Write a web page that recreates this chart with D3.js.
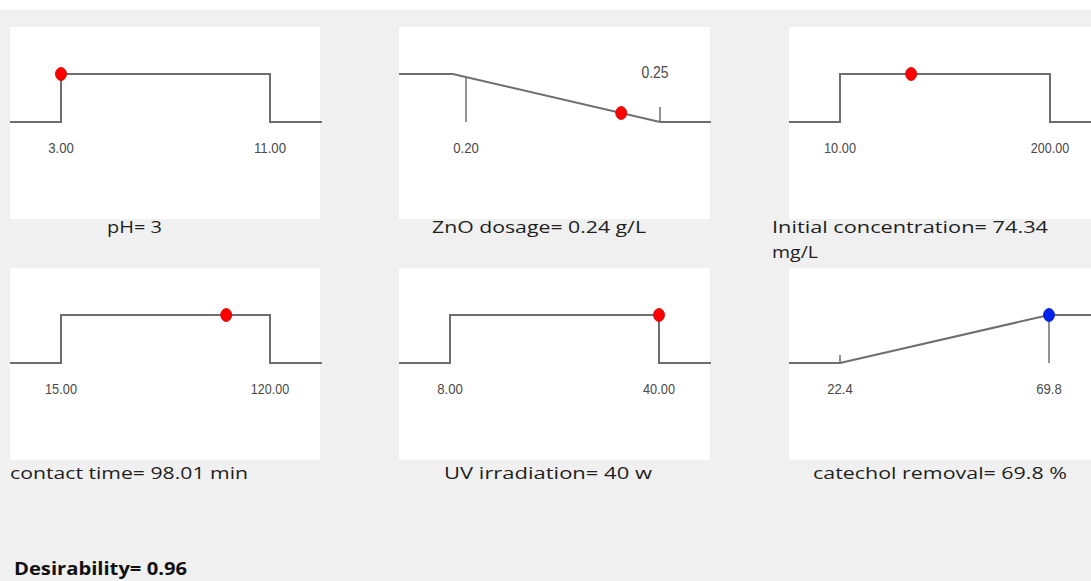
<!DOCTYPE html>
<html>
<head>
<meta charset="utf-8">
<script src="https://cdn.jsdelivr.net/npm/d3@7"></script>
<style>
  body { margin: 0; background: #fff; }
  svg { display: block; }
</style>
</head>
<body>
<div id="plot"></div>
<script>
// desirability ramps, one per factor / response
var titles = ["pH= 3", "ZnO dosage= 0.24 g/L", "Initial concentration= 74.34|mg/L",
              "contact time= 98.01 min", "UV irradiation= 40 w", "catechol removal= 69.8 %"];
var lows = [3, 0.20, 10, 15, 8, 22.4];
var highs = [11, 0.25, 200, 120, 40, 69.8];
var tickText = [["3.00", "11.00"], ["0.20", "0.25"], ["10.00", "200.00"],
                ["15.00", "120.00"], ["8.00", "40.00"], ["22.4", "69.8"]];
var optimum = [3, 0.24, 74.34, 98.01, 40, 69.8];
// curve points [x, desirability]
var curves = [
  [[3, 0], [3, 1], [11, 1], [11, 0]],
  [[0.1966, 1], [0.25, 0]],
  [[10, 0], [10, 1], [200, 1], [200, 0]],
  [[15, 0], [15, 1], [120, 1], [120, 0]],
  [[8, 0], [8, 1], [40, 1], [40, 0]],
  [[22.4, 0], [69.8, 1]]
];
var desirability = "Desirability= 0.96";

// layout
var W = 1091, H = 581;
var panelX = [10, 399, 789, 10, 399, 789];
var panelY = [27, 27, 27, 268, 268, 268];
var panelW = [310, 311, 302, 310, 311, 302];
var panelH = 192;
var lineW = [312, 312, 302, 312, 312, 302];
var tickLo = [51, 67, 51, 51, 51, 51];
var tickHi = [260, 261, 261, 260, 260, 260];
var plainStep = [true, false, true, true, true, false];
var dotColor = ["#ff0000", "#ff0000", "#ff0000", "#ff0000", "#ff0000", "#0022ee"];
var titleX = [107, 432, 772, 10, 444, 813];
var titleW = [55, 214, 276, 238, 208, 254];

var svg = d3.select("#plot").append("svg")
  .attr("width", W).attr("height", H);

svg.append("rect").attr("x", 0).attr("y", 10).attr("width", W).attr("height", H - 10)
  .attr("fill", "#f0f0f0");

var yScale = d3.scaleLinear().domain([0, 1]).range([95, 47]);

titles.forEach(function(t, i) {
  var g = svg.append("g").attr("transform", "translate(" + panelX[i] + "," + panelY[i] + ")");
  g.append("rect").attr("width", panelW[i]).attr("height", panelH).attr("fill", "#fff");

  var x = d3.scaleLinear().domain([lows[i], highs[i]]).range([tickLo[i], tickHi[i]]);
  var pts = curves[i].slice();
  pts.unshift([x.invert(0), pts[0][1]]);
  pts.push([x.invert(lineW[i]), pts[pts.length - 1][1]]);

  var line = d3.line().x(function(d) { return x(d[0]); }).y(function(d) { return yScale(d[1]); });
  g.append("path").datum(pts).attr("d", line)
    .attr("fill", "none").attr("stroke", "#6e6e6e").attr("stroke-width", 2);

  // highest desirability the ramp reaches at v
  function dAt(v) {
    var best = null;
    for (var k = 0; k < pts.length - 1; k++) {
      var a = pts[k], b = pts[k + 1];
      if (v >= a[0] && v <= b[0]) {
        var d = b[0] > a[0] ? a[1] + (b[1] - a[1]) * (v - a[0]) / (b[0] - a[0]) : Math.max(a[1], b[1]);
        if (best === null || d > best) best = d;
      }
    }
    return best === null ? 0 : best;
  }

  if (!plainStep[i]) {
    [lows[i], highs[i]].forEach(function(v) {
      var top = Math.min(yScale(dAt(v)), yScale(0) - (i == 1 ? 15 : 8));
      g.append("line").attr("x1", x(v)).attr("x2", x(v))
        .attr("y1", top).attr("y2", yScale(0))
        .attr("stroke", "#6e6e6e").attr("stroke-width", 1.5);
    });
  }

  [lows[i], highs[i]].forEach(function(v, j) {
    var above = (i == 1 && j == 1);
    g.append("text").attr("x", x(v) - (above ? 5 : 0)).attr("y", above ? 51 : 126)
      .attr("text-anchor", "middle")
      .attr("font-family", "'Liberation Sans Narrow', 'Arial Narrow', sans-serif")
      .attr("font-size", above ? 16 : 14).attr("fill", "#4a4a4a")
      .attr("textLength", tickText[i][j].length * (above ? 6.8 : 6.4))
      .attr("lengthAdjust", "spacingAndGlyphs")
      .text(tickText[i][j]);
  });

  g.append("ellipse").attr("cx", x(optimum[i])).attr("cy", yScale(dAt(optimum[i])))
    .attr("rx", 5.5).attr("ry", 6.5)
    .attr("fill", dotColor[i]).attr("stroke", d3.color(dotColor[i]).darker(0.6)).attr("stroke-width", 0.8);

  var parts = t.split("|");
  var baseY = (i < 3 ? 233 : 479) - panelY[i];
  g.append("text").attr("x", titleX[i] - panelX[i]).attr("y", baseY)
    .attr("font-family", "'Open Sans', sans-serif").attr("font-size", 17).attr("fill", "#1e1e1e")
    .attr("textLength", titleW[i]).attr("lengthAdjust", "spacingAndGlyphs")
    .text(parts[0]);
  if (parts[1]) {
    g.append("text").attr("x", titleX[i] - panelX[i]).attr("y", baseY + 25)
      .attr("font-family", "'Open Sans', sans-serif").attr("font-size", 17).attr("fill", "#1e1e1e")
      .attr("textLength", 46).attr("lengthAdjust", "spacingAndGlyphs")
      .text(parts[1]);
  }
});

svg.append("text").attr("x", 14).attr("y", 575)
  .attr("font-family", "'Open Sans', sans-serif").attr("font-size", 18).attr("font-weight", "bold")
  .attr("fill", "#111").attr("textLength", 173).attr("lengthAdjust", "spacingAndGlyphs")
  .text(desirability);
</script>
</body>
</html>
